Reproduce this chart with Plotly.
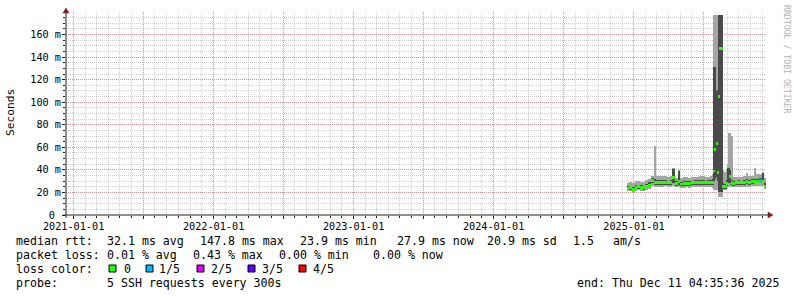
import pandas as pd
import plotly.graph_objects as go

# ---------------- data ----------------
DATES = [
    "2024-12-13", "2024-12-20", "2024-12-27", "2025-01-03", "2025-01-10", "2025-01-17",
    "2025-01-24", "2025-01-31", "2025-02-07", "2025-02-14", "2025-02-21", "2025-02-28",
    "2025-03-07", "2025-03-14", "2025-03-21", "2025-03-28", "2025-04-04", "2025-04-11",
    "2025-04-18", "2025-04-25", "2025-05-02", "2025-05-09", "2025-05-16", "2025-05-23",
    "2025-05-30", "2025-06-06", "2025-06-13", "2025-06-20", "2025-06-27", "2025-07-04",
    "2025-07-11", "2025-07-18", "2025-07-25", "2025-07-28", "2025-07-31", "2025-08-03",
    "2025-08-06", "2025-08-09", "2025-08-12", "2025-08-15", "2025-08-18", "2025-08-21",
    "2025-08-24", "2025-08-27", "2025-08-30", "2025-09-02", "2025-09-05", "2025-09-08",
    "2025-09-11", "2025-09-14", "2025-09-21", "2025-09-28", "2025-10-05", "2025-10-12",
    "2025-10-19", "2025-10-26", "2025-11-02", "2025-11-09", "2025-11-16", "2025-11-23",
    "2025-11-30", "2025-12-07",
]
END_TIME = "2025-12-11 04:35:36"
START_TIME = "2020-12-12 04:35:36"

# median rtt (ms)
MEDIAN = [
    23.5, 24, 23, 24.5, 25, 24.5, 24, 25.5, 26.5, 30.5, 29, 29,
    28.5, 29, 29, 28.5, 28.5, 33, 28, 30, 27.5, 28, 28, 28,
    28.5, 29, 29, 28.5, 29, 28.5, 29, 29, 29, 39, 58, 63,
    37.5, 105, 147.6, 147.6, 147.6, 25, 25, 25, 28, 43, 43, 34,
    29, 28, 28.5, 29, 28.5, 29, 29.5, 29, 29.5, 30, 30, 31,
    30, 25.5,
]
# outer smoke (min .. max of the pings), ms
SMOKE_LO = [
    21, 21, 20, 21, 22, 21, 21, 22, 23, 26, 25, 25,
    25, 25, 26, 25, 25, 26, 25, 25, 24, 24, 25, 24,
    25, 25, 25, 25, 25, 25, 25, 25, 24, 22, 22, 22,
    22, 16, 16, 16, 16, 22, 22, 22, 24, 25, 25, 25,
    25, 25, 25, 25, 25, 25, 25, 25, 26, 26, 26, 26,
    26, 23,
]
SMOKE_HI = [
    28, 29, 28, 30, 30, 29, 29, 31, 32, 35, 61, 35,
    35, 35, 35, 34, 35, 42, 33, 40, 33, 34, 34, 33,
    34, 34, 34, 35, 35, 34, 34, 35, 36, 177, 177, 177,
    177, 177, 177, 177, 177, 40, 38, 38, 40, 45, 73, 73,
    70, 34, 34, 34, 34, 35, 37, 35, 35, 42, 36, 36,
    38, 33,
]
# inner smoke (2nd .. 4th ping), ms
CORE_LO = [
    22, 22.5, 21.5, 23, 23.5, 23, 22.5, 24, 25, 28, 27, 27,
    26.5, 27, 27, 26.5, 26.5, 28, 26, 27, 25.5, 26, 26, 26,
    26.5, 27, 27, 26.5, 27, 26.5, 27, 27, 27, 30, 32, 34,
    30, 20, 20, 20, 20, 23, 23, 23, 26, 28, 30, 28,
    27, 26, 26.5, 27, 26.5, 27, 27.5, 27, 27.5, 28, 28, 29,
    28, 24,
]
CORE_HI = [
    25.5, 26, 25, 26.5, 27, 26.5, 26, 27.5, 29, 33, 32, 31,
    31, 31, 31, 30.5, 31, 41, 30, 39, 29.5, 30, 30, 30,
    30.5, 31, 31, 31, 31, 30.5, 31, 31, 32, 131, 131, 110,
    111, 177, 177, 177, 177, 28, 27.5, 27.5, 31, 43, 43, 40,
    31, 30, 30.5, 31, 30.5, 31, 31.5, 31, 31.5, 32, 32, 33,
    37, 28,
]
# lost pings out of 5
LOSS = [0] * 59 + [1, 0, 0]

LOSS_LABELS = ["0", "1/5", "2/5", "3/5", "4/5"]
LOSS_COLORS = ["#26ff00", "#00b8ff", "#dd00ff", "#5e00ff", "#ff0000"]

Y_TICK_VALS = [0, 20, 40, 60, 80, 100, 120, 140, 160]
Y_TICK_TEXT = ["0\u00a0", "20 m", "40 m", "60 m", "80 m", "100 m", "120 m", "140 m", "160 m"]
X_TICK_VALS = ["2021-01-01", "2021-07-01", "2022-01-01", "2022-07-01", "2023-01-01",
               "2023-07-01", "2024-01-01", "2024-07-01", "2025-01-01", "2025-07-01"]
X_TICK_TEXT = ["2021-01-01", "", "2022-01-01", "", "2023-01-01",
               "", "2024-01-01", "", "2025-01-01", ""]

ROW_RTT = ["median rtt:", "32.1 ms avg", "147.8 ms max", "23.9 ms min",
           "27.9 ms now", "20.9 ms sd", "1.5", "am/s"]
ROW_LOSS = ["packet loss:", "0.01 % avg", "0.43 % max", "0.00 % min", "0.00 % now"]
ROW_COLOR = "loss color:"
ROW_PROBE = ["probe:", "5 SSH requests every 300s"]
END_TEXT = "end: Thu Dec 11 04:35:36 2025"
Y_TITLE = "Seconds"
WATERMARK = "RRDTOOL / TOBI OETIKER"

# ---------------- geometry helpers ----------------
W, H = 797, 297
L, R, T, B = 66, 31, 12, 82
PW, PH = W - L - R, H - T - B
MONO = "DejaVu Sans Mono"
FS = 11.6      # legend font
AFS = 10.2     # axis font


def px(x):
    return (x - L) / PW


def py(y):
    return (T + PH - y) / PH


# ---------------- bars ----------------
t = pd.to_datetime(DATES)
t_next = list(t[1:]) + [pd.Timestamp(END_TIME)]
widths = [(b - a).total_seconds() * 1000 for a, b in zip(t, t_next)]
centers = [a + (b - a) / 2 for a, b in zip(t, t_next)]

fig = go.Figure()
fig.add_trace(go.Bar(
    x=centers, base=SMOKE_LO, y=[h - l for h, l in zip(SMOKE_HI, SMOKE_LO)],
    width=widths, marker=dict(color="#a4a4a4", line=dict(width=0)), hoverinfo="skip"))
fig.add_trace(go.Bar(
    x=centers, base=CORE_LO, y=[h - l for h, l in zip(CORE_HI, CORE_LO)],
    width=widths, marker=dict(color="#4a4a4a", line=dict(width=0)), hoverinfo="skip"))
half = 1.3
fig.add_trace(go.Bar(
    x=centers, base=[m - half for m in MEDIAN], y=[2 * half] * len(MEDIAN),
    width=widths, marker=dict(color=[LOSS_COLORS[k] for k in LOSS], line=dict(width=0)),
    hovertext=[f"{m} ms" for m in MEDIAN], hoverinfo="x+text"))

minor_grid = "rgba(143,143,143,0.42)"
major_grid = "rgba(222,48,48,0.38)"

fig.update_layout(
    width=W, height=H,
    margin=dict(l=L, r=R, t=T, b=B, pad=0),
    paper_bgcolor="white", plot_bgcolor="white",
    barmode="overlay", bargap=0, showlegend=False,
    font=dict(family=MONO, size=FS, color="#000"),
    xaxis=dict(
        type="date", range=[START_TIME, END_TIME],
        tickmode="array", tickvals=X_TICK_VALS, ticktext=X_TICK_TEXT,
        showgrid=True, gridcolor=major_grid, griddash="1px,1px", gridwidth=1,
        ticks="outside", ticklen=3, tickcolor="#1f1f1f", ticklabelstandoff=-1,
        showline=False, zeroline=False,
        tickfont=dict(family=MONO, size=AFS, color="#000"),
        minor=dict(dtick="M1", tick0="2021-01-01", showgrid=True, gridcolor=minor_grid,
                   griddash="1px,1px", ticks="outside", ticklen=2, tickcolor="#1f1f1f"),
    ),
    yaxis=dict(
        range=[0, 180], tickmode="array", tickvals=Y_TICK_VALS, ticktext=Y_TICK_TEXT,
        showgrid=True, gridcolor=major_grid, griddash="1px,1px", gridwidth=1,
        ticks="outside", ticklen=3, tickcolor="#1f1f1f", ticklabelstandoff=-1,
        showline=False, zeroline=False,
        tickfont=dict(family=MONO, size=AFS, color="#000"),
        minor=dict(dtick=5, tick0=0, showgrid=True, gridcolor=minor_grid,
                   griddash="1px,1px", ticks="outside", ticklen=2, tickcolor="#1f1f1f"),
    ),
)

shapes = []
# axes lines
shapes.append(dict(type="line", xref="paper", yref="paper", x0=px(63), x1=px(769),
                   y0=py(215), y1=py(215), line=dict(color="#1f1f1f", width=1), layer="above"))
shapes.append(dict(type="line", xref="paper", yref="paper", x0=px(66), x1=px(66),
                   y0=py(218), y1=py(12), line=dict(color="#1f1f1f", width=1), layer="above"))
# arrows
shapes.append(dict(type="path", xref="paper", yref="paper", layer="above",
                   path=f"M {px(773)},{py(215)} L {px(768)},{py(212)} L {px(768)},{py(218)} Z",
                   fillcolor="#7f1f1f", line=dict(color="#7f1f1f", width=0.5)))
shapes.append(dict(type="path", xref="paper", yref="paper", layer="above",
                   path=f"M {px(66)},{py(8)} L {px(63)},{py(13)} L {px(69)},{py(13)} Z",
                   fillcolor="#7f1f1f", line=dict(color="#7f1f1f", width=0.5)))

# legend squares
row_y = [241, 255, 269, 283]
square_x = [109, 146, 197, 248, 299]
label_x = [123, 158, 210, 261, 312]
for sx, c in zip(square_x, LOSS_COLORS):
    shapes.append(dict(type="rect", xref="paper", yref="paper", layer="above",
                       x0=px(sx), x1=px(sx + 7), y0=py(row_y[2] - 4), y1=py(row_y[2] + 3),
                       fillcolor=c, line=dict(color="#000", width=1)))
fig.update_layout(shapes=shapes)


def ann(text, x, y, size=FS, color="#000", xanchor="left", angle=0):
    fig.add_annotation(text=text.replace(" ", "\u00a0"), x=px(x), y=py(y),
                       xref="paper", yref="paper", xanchor=xanchor, yanchor="middle",
                       showarrow=False, textangle=angle, borderpad=0,
                       font=dict(family=MONO, size=size, color=color))


for txt, x in zip(ROW_RTT, [15, 106, 199, 299, 396, 486, 572, 612]):
    ann(txt, x, row_y[0])
for txt, x in zip(ROW_LOSS, [15, 106, 192, 278, 372]):
    ann(txt, x, row_y[1])
ann(ROW_COLOR, 15, row_y[2])
for lx, lab in zip(label_x, LOSS_LABELS):
    ann(lab, lx, row_y[2])
for txt, x in zip(ROW_PROBE, [15, 106]):
    ann(txt, x, row_y[3])
ann(END_TEXT, 576, row_y[3])
ann(Y_TITLE, 11, 113, size=11.2, xanchor="center", angle=-90)
ann(WATERMARK, 787, 59, size=8.2, color="#b4b4b4", xanchor="center", angle=90)

fig.write_html("out.html")
